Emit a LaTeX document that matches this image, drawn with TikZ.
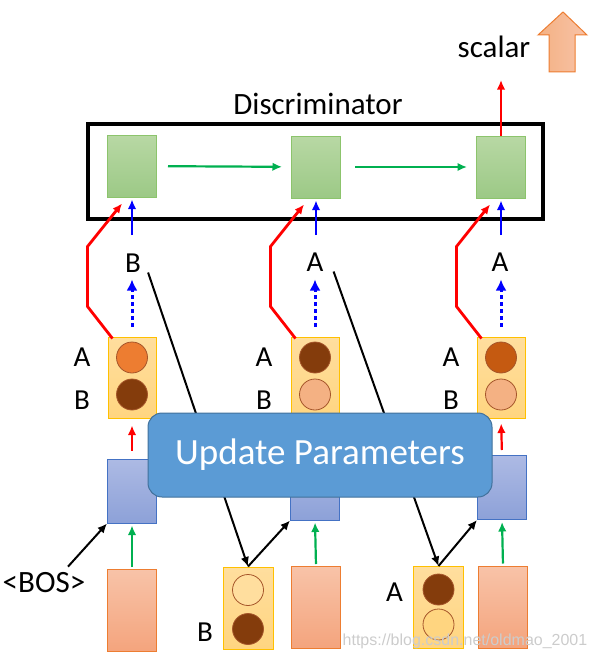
\documentclass[tikz,border=0pt]{standalone}
\usepackage{fontspec}
\setmainfont{Carlito}
\newfontfamily\urlfont{Liberation Sans}
\usetikzlibrary{arrows.meta,positioning,calc}
\definecolor{dtop}{HTML}{B8D8A4}
\definecolor{dbot}{HTML}{9CC986}
\definecolor{dline}{HTML}{8CC46C}
\definecolor{gline}{HTML}{00B050}
\definecolor{utop}{HTML}{FFDE9E}
\definecolor{ubot}{HTML}{FFD580}
\definecolor{uline}{HTML}{FFC000}
\definecolor{ltop}{HTML}{ADBAE4}
\definecolor{lbot}{HTML}{8DA1D8}
\definecolor{lline}{HTML}{4472C4}
\definecolor{otop}{HTML}{F8C3A8}
\definecolor{obot}{HTML}{F4A47D}
\definecolor{oline}{HTML}{ED7D31}
\definecolor{corange}{HTML}{ED7D31}
\definecolor{cbrown}{HTML}{843C0C}
\definecolor{cdark}{HTML}{C55A11}
\definecolor{csalmon}{HTML}{F4B183}
\definecolor{cline}{HTML}{A5552A}
\definecolor{upfill}{HTML}{5B9BD5}
\definecolor{upline}{HTML}{41719C}
\tikzset{every node/.append style={font=\fontsize{29}{31}\selectfont, inner sep=0pt}}
\tikzset{
  frame/.style={draw=black, line width=3.5pt, minimum width=455pt, minimum height=95pt},
  dcell/.style={draw=dline, line width=1pt, top color=dtop, bottom color=dbot,
    minimum width=49pt, minimum height=62pt},
  ubox/.style={draw=uline, line width=1pt, top color=utop, bottom color=ubot,
    minimum width=48pt, minimum height=81pt},
  lbox/.style={draw=lline, line width=1pt, top color=ltop, bottom color=lbot,
    minimum width=49pt, minimum height=64pt},
  obox/.style={draw=oline, line width=1pt, top color=otop, bottom color=obot,
    minimum width=49pt, minimum height=82pt},
  dot/.style={circle, draw=cline, line width=0.8pt, minimum size=31pt},
  tip/.style={-{Latex[length=9.5pt,width=8.5pt]}},
  garrow/.style={tip, draw=gline, line width=2.2pt},
  rarrow/.style={tip, draw=red, line width=2.8pt},
  barrow/.style={tip, draw=blue, line width=2.5pt},
  dotarrow/.style={-{Latex[length=11pt,width=11pt]}, draw=blue, line width=3pt,
    dash pattern=on 4pt off 3pt},
  karrow/.style={tip, draw=black, line width=2pt},
  updbox/.style={draw=upline, line width=1pt, fill=upfill, rounded corners=14pt,
    minimum width=344pt, minimum height=84pt, text=white,
    font=\fontsize{37}{40}\selectfont},
  bigtext/.style={font=\fontsize{31}{33}\selectfont},
  bigarrow/.style={draw=oline, line width=1pt, left color=csalmon, right color=otop},
  wmark/.style={text=gray!40, font=\urlfont\fontsize{16}{18}\selectfont}
}
\begin{document}
\begin{tikzpicture}[x=1pt,y=-1pt]
  \pgfmathsetmacro{\ca}{132}
  \pgfmathsetmacro{\cb}{315}
  \pgfmathsetmacro{\cc}{501}
  \useasboundingbox (0,0) rectangle (593,661);
  % discriminator
  \node[frame] (disc) at (315.5,171.5) {};
  \node[bigtext] (dname) at (318,104) {Discriminator};
  \node[dcell] (d1) at (\ca,166) {};
  \node[dcell] (d2) at (\cb+1,167) {};
  \node[dcell] (d3) at (\cc,167) {};
  \draw[garrow, shorten <=11pt, shorten >=9pt] (d1) -- (d2);
  \draw[garrow, shorten <=14pt, shorten >=9pt] (d2) -- (d3);
  \node[bigtext] (scal) at (494,47) {scalar};
  \draw[bigarrow] (563,12) -- (587,35) -- (575,35) -- (575,72) -- (549,72)
    -- (549,35) -- (538,35) -- cycle;
  \coordinate (sc) at (\cc,80);
  \draw[rarrow] (d3.north) -- (sc);
  % sampled tokens
  \node (t1) at (133,263) {B};
  \node (t2) at (315,262) {A};
  \node (t3) at (500,262) {A};
  \coordinate (e1) at (\ca,235);
  \coordinate (e2) at (\cb+1,235);
  \coordinate (e3) at (\cc,235);
  \draw[barrow, shorten >=2pt] (e1) -- (d1.south);
  \draw[barrow, shorten >=2pt] (e2) -- (d2.south);
  \draw[barrow, shorten >=2pt] (e3) -- (d3.south);
  % generator outputs
  \node[ubox] (u1) at (\ca,377.5) {};
  \node[ubox] (u2) at (\cb,377.5) {};
  \node[ubox] (u3) at (\cc,377.5) {};
  \node[dot, fill=corange] (u1a) at ($(u1)+(0,-20)$) {};
  \node[dot, fill=cbrown] (u1b) at ($(u1)+(0,17)$) {};
  \node[dot, fill=cbrown] (u2a) at ($(u2)+(0,-20)$) {};
  \node[dot, fill=csalmon] (u2b) at ($(u2)+(0,17)$) {};
  \node[dot, fill=cdark] (u3a) at ($(u3)+(0,-20)$) {};
  \node[dot, fill=csalmon] (u3b) at ($(u3)+(0,17)$) {};
  \node (u1la) at ($(u1a)+(-50,0)$) {A};
  \node (u1lb) at ($(u1b)+(-50,6)$) {B};
  \node (u2la) at ($(u2a)+(-51,0)$) {A};
  \node (u2lb) at ($(u2b)+(-51,6)$) {B};
  \node (u3la) at ($(u3a)+(-50,0)$) {A};
  \node (u3lb) at ($(u3b)+(-50,6)$) {B};
  \draw[rarrow] ($(u1.north west)+(5,2)$) -- ++(-25,-32) -- ++(0,-60)
    -- ($(d1.south)+(-10,6)$);
  \draw[rarrow] ($(u2.north west)+(5,2)$) -- ++(-25,-32) -- ++(0,-60)
    -- ($(d2.south)+(-12,6)$);
  \draw[rarrow] ($(u3.north west)+(5,2)$) -- ++(-25,-32) -- ++(0,-60)
    -- ($(d3.south)+(-11,6)$);
  \draw[dotarrow, shorten <=10pt] (u1.north) -- ++(0,-57);
  \draw[dotarrow, shorten <=10pt] (u2.north) -- ++(0,-57);
  \draw[dotarrow, shorten <=10pt] (u3.north) -- ++(0,-57);
  % generator cells
  \node[lbox] (l1) at (\ca,491) {};
  \node[lbox] (l2) at (\cb,488) {};
  \node[lbox] (l3) at (\cc+1,487.5) {};
  \draw[rarrow, line width=2.2pt, shorten <=8pt, shorten >=7pt] (l1.north) -- (u1.south);
  \draw[rarrow, line width=2.2pt, shorten <=5pt, shorten >=5pt] (l3.north) -- (u3.south);
  % inputs
  \node[obox] (o1) at (\ca,610.5) {};
  \node[obox] (o2) at (\cb+1,607.5) {};
  \node[obox] (o3) at (\cc+2,607) {};
  \draw[garrow, shorten <=2pt, shorten >=2pt] (o1.north) -- (l1.south);
  \draw[garrow, shorten <=2pt, shorten >=2pt] (o2.north) -- (l2.south);
  \draw[garrow, shorten <=2pt, shorten >=2pt] (o3.north) -- (l3.south);
  \node[ubox, minimum width=50pt, minimum height=82pt] (y1) at (248,608) {};
  \node[ubox, minimum width=50pt, minimum height=82pt] (y2) at (438.5,607.5) {};
  \node[dot, fill=utop] (y1a) at ($(y1)+(0,-18)$) {};
  \node[dot, fill=cbrown] (y1b) at ($(y1)+(0,21)$) {};
  \node[dot, fill=cbrown] (y2a) at ($(y2)+(0,-18)$) {};
  \node[dot, fill=ubot] (y2b) at ($(y2)+(0,17)$) {};
  \node (y1l) at ($(y1b)+(-43,3)$) {B};
  \node (y2l) at ($(y2a)+(-44,3)$) {A};
  \node[bigtext] (bos) at (44,583) {<BOS>};
  % feeding back
  \draw[karrow] ($(bos.north)+(24,-6)$) -- (l1.south west);
  \draw[karrow] ($(t1.south east)+(7,0)$) -- (y1.north);
  \draw[karrow] (y1.north) -- (l2.south west);
  \draw[karrow] ($(t2.south east)+(10,0)$) -- (y2.north);
  \draw[karrow] (y2.north) -- (l3.south west);
  \node[updbox] (upd) at (320,455) {Update Parameters};
  \node[wmark] (wm) at (465,641) {https://blog.csdn.net/oldmao\_2001};
\end{tikzpicture}
\end{document}
